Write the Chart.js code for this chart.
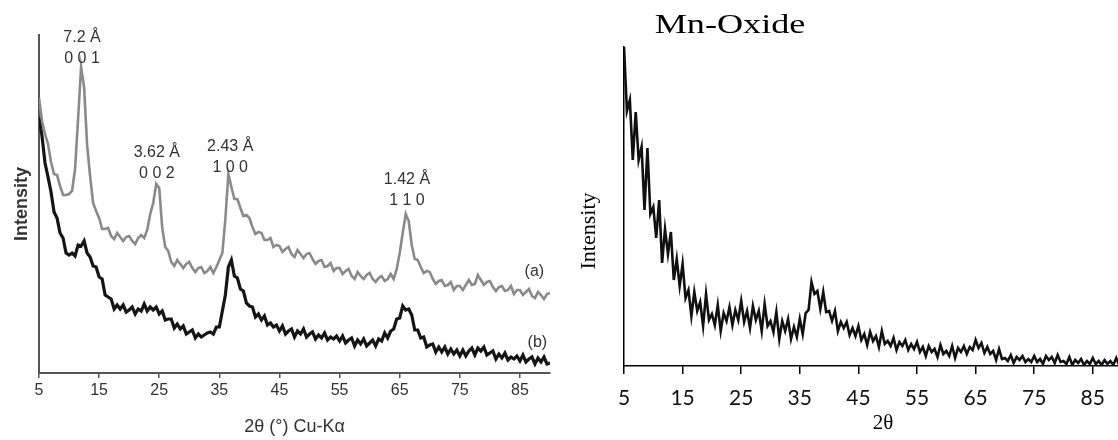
<!DOCTYPE html>
<html>
<head>
<meta charset="utf-8">
<script src="https://cdn.jsdelivr.net/npm/chart.js@4.4.1/dist/chart.umd.min.js"></script>
<style>
  body { margin: 0; background: #fff; }
  #wrap { position: relative; width: 1118px; height: 440px; }
  .panel { position: absolute; top: 0; height: 440px; }
  #left { left: 0; width: 560px; }
  #right { left: 560px; width: 558px; }
</style>
</head>
<body>
<div id="wrap">
  <div class="panel" id="left"><canvas id="xrdChart"></canvas></div>
  <div class="panel" id="right"><canvas id="mnChart"></canvas></div>
</div>
<script>
// ====== DATA ======

// scan angles, 2θ (degrees)
const twoTheta = [
  5,5.5,6,6.5,7,7.5,8,8.5,9,9.5, 10,10.5,11,11.5,12,12.5,13,13.5,14,14.5,
  15,15.5,16,16.5,17,17.5,18,18.5,19,19.5, 20,20.5,21,21.5,22,22.5,23,23.5,24,24.5,
  25,25.5,26,26.5,27,27.5,28,28.5,29,29.5, 30,30.5,31,31.5,32,32.5,33,33.5,34,34.5,
  35,35.5,36,36.5,37,37.5,38,38.5,39,39.5, 40,40.5,41,41.5,42,42.5,43,43.5,44,44.5,
  45,45.5,46,46.5,47,47.5,48,48.5,49,49.5, 50,50.5,51,51.5,52,52.5,53,53.5,54,54.5,
  55,55.5,56,56.5,57,57.5,58,58.5,59,59.5, 60,60.5,61,61.5,62,62.5,63,63.5,64,64.5,
  65,65.5,66,66.5,67,67.5,68,68.5,69,69.5, 70,70.5,71,71.5,72,72.5,73,73.5,74,74.5,
  75,75.5,76,76.5,77,77.5,78,78.5,79,79.5, 80,80.5,81,81.5,82,82.5,83,83.5,84,84.5,
  85,85.5,86,86.5,87,87.5,88,88.5,89,89.5, 90
];

// left panel, trace (a) - grey
const traceA = [
  275,252,239,229,211,199,198,187,178,178, 179,182,204,254,306,286,228,197,170,162,
  155,144,144,145,137,134,140,136,132,136, 137,132,129,135,138,135,143,159,170,189,
  185,145,126,122,111,107,113,109,105,109, 111,105,101,105,106,100,102,106,100,106,
  113,120,154,199,186,174,174,165,157,158, 155,146,139,141,140,133,133,135,126,128,
  127,121,124,126,119,116,123,119,115,119, 120,114,109,112,113,106,107,110,102,105,
  105,99,102,104,97,94,101,97,94,98, 100,94,91,95,97,92,94,99,94,104,
  120,140,159,152,128,114,113,106,100,102, 101,94,89,92,93,87,88,91,83,87,
  87,83,88,93,88,89,98,93,88,91, 92,86,82,86,87,82,83,87,79,83,
  83,78,81,84,77,75,81,78,74,79, 80
];

// left panel, trace (b) - black
const traceB = [
  256,237,210,196,181,161,155,140,135,120, 118,120,117,128,127,132,120,116,107,106,
  96,94,78,76,74,64,68,64,68,61, 63,66,59,64,62,69,62,66,63,66,
  59,62,53,54,54,45,49,44,47,39, 41,43,35,39,36,38,40,41,39,46,
  46,62,78,106,113,97,95,84,82,70, 67,66,56,59,53,57,48,50,46,48,
  42,47,39,42,44,36,42,39,44,36, 39,41,34,38,35,40,33,36,34,37,
  32,37,30,33,35,27,33,29,34,27, 30,33,27,34,32,40,35,42,44,54,
  55,67,63,64,58,43,43,35,36,26, 28,29,21,26,21,26,19,24,19,23,
  17,23,17,22,25,18,25,22,26,18, 20,22,14,19,15,20,13,16,14,17,
  12,18,11,14,16,9,15,11,16,9, 10
];

// right panel, Mn-Oxide (5 .. 89.5)
const mnOxide = [
  319,255,266,206,254,206,219,156,218,152, 159,128,166,103,137,112,134,86,107,80,
  102,68,76,50,74,55,64,40,72,46, 52,41,61,35,53,45,59,41,56,46,
  65,44,55,38,60,46,55,35,62,40, 45,34,54,27,45,35,47,27,39,29,
  47,32,53,56,84,72,75,57,74,54, 55,45,55,35,44,38,44,31,38,30,
  40,26,32,21,34,25,30,19,35,22, 25,20,28,16,24,20,26,16,22,17,
  24,14,19,10,20,14,17,9,21,12, 15,10,20,8,18,14,20,12,19,16,
  26,18,23,13,19,12,15,6,17,7, 8,5,11,3,9,6,10,4,7,4,
  10,4,7,2,10,6,9,3,11,4, 5,2,9,1,6,3,7,1,5,2,
  8,2,5,1,6,2,5,1,8,1
];

const xTicks = [5, 15, 25, 35, 45, 55, 65, 75, 85];

const peakNotes = [
  { x: 12.15, y: 335, d: '7.2 Å', hkl: '0 0 1' },
  { x: 24.6, y: 220, d: '3.62 Å', hkl: '0 0 2' },
  { x: 36.8, y: 226, d: '2.43 Å', hkl: '1 0 0' },
  { x: 66.2, y: 193, d: '1.42 Å', hkl: '1 1 0' }
];
const curveTags = [
  { x: 87.4, y: 101, text: '(a)' },
  { x: 87.9, y: 30, text: '(b)' }
];

// ====== HELPERS ======

const sans = '"Liberation Sans", Arial, sans-serif';
const serif = '"Liberation Serif", "Times New Roman", serif';

function toPoints(values) {
  return values.map((v, i) => ({ x: twoTheta[i], y: v }));
}

function fixedTicks(scale) {
  scale.ticks = xTicks.map(v => ({ value: v }));
}

const peakLabelPlugin = {
  id: 'peakLabels',
  afterDatasetsDraw(chart) {
    const { ctx, scales: { x, y } } = chart;
    ctx.save();
    ctx.fillStyle = '#333';
    ctx.font = '16px ' + sans;
    ctx.textAlign = 'center';
    ctx.textBaseline = 'middle';
    peakNotes.forEach(p => {
      const px = x.getPixelForValue(p.x);
      const py = y.getPixelForValue(p.y);
      ctx.fillText(p.d, px, py);
      ctx.fillText(p.hkl, px, py + 21);
    });
    curveTags.forEach(t => {
      ctx.fillText(t.text, x.getPixelForValue(t.x), y.getPixelForValue(t.y));
    });
    ctx.restore();
  }
};

const mnTextPlugin = {
  id: 'mnText',
  afterDraw(chart) {
    const ctx = chart.ctx;
    ctx.save();
    ctx.fillStyle = '#000';
    ctx.textAlign = 'center';

    // title, stretched like the original
    ctx.save();
    ctx.font = '27px ' + serif;
    ctx.textBaseline = 'alphabetic';
    ctx.translate(170, 33);
    ctx.scale(1.34, 1);
    ctx.fillText('Mn-Oxide', 0, 0);
    ctx.restore();

    ctx.textBaseline = 'middle';
    ctx.font = '21px ' + serif;
    ctx.fillText('2θ', 323, 423);

    ctx.save();
    ctx.font = '22px ' + serif;
    ctx.translate(29, 231);
    ctx.rotate(-Math.PI / 2);
    ctx.fillText('Intensity', 0, 0);
    ctx.restore();

    ctx.restore();
  }
};

// ====== CHART.JS INITIALIZATION ======

function initXrdChart() {
  const ctx = document.getElementById('xrdChart');
  new Chart(ctx, {
    type: 'line',
    data: {
      datasets: [
        { label: '(a)', data: toPoints(traceA), borderColor: '#8a8a8a', borderWidth: 2.6, pointRadius: 0, tension: 0 },
        { label: '(b)', data: toPoints(traceB), borderColor: '#151515', borderWidth: 3.2, pointRadius: 0, tension: 0 }
      ]
    },
    options: {
      responsive: true,
      maintainAspectRatio: false,
      animation: false,
      layout: { padding: { top: 35, right: 10, left: 0, bottom: 0 } },
      plugins: { legend: { display: false }, tooltip: { enabled: false } },
      scales: {
        x: {
          type: 'linear', min: 5, max: 90,
          afterBuildTicks: fixedTicks,
          afterFit: s => { s.height = 67; },
          grid: { display: true, drawOnChartArea: false, drawTicks: true, tickLength: 5, color: '#555', lineWidth: 1.5 },
          border: { display: true, color: '#555', width: 2 },
          ticks: { autoSkip: false, maxRotation: 0, padding: 3, color: '#333', font: { family: sans, size: 16 } },
          title: { display: true, text: '2θ (°) Cu-Kα', color: '#333', font: { family: sans, size: 18 }, padding: { top: 0, bottom: 2 } }
        },
        y: {
          min: 0, max: 338,
          afterFit: s => { s.width = 39; },
          grid: { display: false },
          border: { display: true, color: '#555', width: 2 },
          ticks: { display: false },
          title: { display: true, text: 'Intensity', color: '#333', font: { family: sans, size: 18, weight: 'bold' }, padding: { top: 11, bottom: 0 } }
        }
      }
    },
    plugins: [peakLabelPlugin]
  });
}

function initMnChart() {
  const ctx = document.getElementById('mnChart');
  new Chart(ctx, {
    type: 'line',
    data: {
      datasets: [
        { label: 'Mn-Oxide', data: toPoints(mnOxide), borderColor: '#111', borderWidth: 2.6, pointRadius: 0, tension: 0 }
      ]
    },
    options: {
      responsive: true,
      maintainAspectRatio: false,
      animation: false,
      layout: { padding: { top: 47, right: 0, left: 0, bottom: 0 } },
      plugins: { legend: { display: false }, tooltip: { enabled: false } },
      scales: {
        x: {
          type: 'linear', min: 5, max: 89.3,
          afterBuildTicks: fixedTicks,
          afterFit: s => { s.height = 74; },
          grid: { display: true, drawOnChartArea: false, drawTicks: true, tickLength: 8, color: '#000', lineWidth: 1.5 },
          border: { display: true, color: '#000', width: 1.5 },
          ticks: { autoSkip: false, maxRotation: 0, padding: 12, color: '#111', font: { family: 'Lato', size: 21 } }
        },
        y: {
          min: 0, max: 319,
          afterFit: s => { s.width = 64; },
          grid: { display: false },
          border: { display: true, color: '#000', width: 1.5 },
          ticks: { display: false }
        }
      }
    },
    plugins: [mnTextPlugin]
  });
}

initXrdChart();
initMnChart();
</script>
</body>
</html>
